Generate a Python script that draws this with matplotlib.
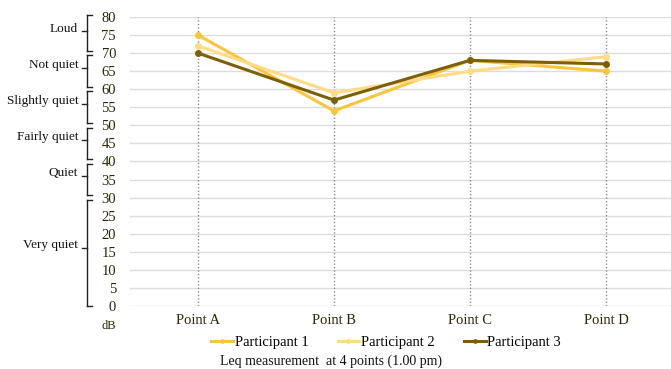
import matplotlib.pyplot as plt
import numpy as np

# -----------------------------
# Data
# -----------------------------
points = ["Point A", "Point B", "Point C", "Point D"]
participant_1 = [75, 54, 68, 65]
participant_2 = [72, 59, 65, 69]
participant_3 = [70, 57, 68, 67]

y_ticks = list(range(0, 85, 5))

# noise bands: (label, low, high)
band_labels = ["Loud", "Not quiet", "Slightly quiet", "Fairly quiet", "Quiet", "Very quiet"]
band_low = [70, 60, 50, 40, 30, 0]
band_high = [80, 70, 60, 50, 40, 30]

colors = ["#F9C53B", "#FFDC84", "#7E5E07"]
text_color = "#2b2600"

plt.rcParams["font.family"] = ["Liberation Serif", "DejaVu Serif"]

# -----------------------------
# Figure
# -----------------------------
fig = plt.figure(figsize=(6.71, 3.69), dpi=100)
ax = fig.add_axes([130 / 671, 63 / 369, 544 / 671, 289 / 369])

x = np.arange(len(points))

for xi in x:
    ax.axvline(xi, color="#8c8c8c", linestyle=(0, (1, 1.5)), linewidth=1.0, zorder=1)

for yv in y_ticks:
    ax.axhline(yv, color="#dcdcdc", linewidth=1.0, zorder=0)

series = [participant_1, participant_2, participant_3]
names = ["Participant 1", "Participant 2", "Participant 3"]
for vals, c, name in zip(series, colors, names):
    ax.plot(x, vals, color=c, linewidth=2.2, marker="o", markersize=4,
            label=name, zorder=3, clip_on=False)

ax.set_xlim(-0.5, 3.5)
ax.set_ylim(0, 80)
ax.set_yticks(y_ticks)
ax.set_yticklabels([str(v) for v in y_ticks], fontsize=10.5, color=text_color)
ax.tick_params(axis="y", length=0, pad=10)
ax.set_xticks(x)
ax.set_xticklabels(points, fontsize=10.5, color=text_color)
ax.tick_params(axis="x", length=0, pad=6)

for s in ax.spines.values():
    s.set_visible(False)

# dB unit label
ax.text(-0.6, -3.8, "dB", transform=ax.transData, ha="right", va="top",
        fontsize=9, color=text_color)

# -----------------------------
# Bracket labels for noise bands
# -----------------------------
bx = -0.816   # bracket line x in data coords
tick_r = 0.04
tick_l = 0.035
for label, lo, hi in zip(band_labels, band_low, band_high):
    y0 = lo + 0.6 if lo > 0 else lo
    y1 = hi - 0.6 if hi < 80 else hi + 0.6
    ax.plot([bx, bx], [y0, y1], color="#222222", linewidth=1.0, clip_on=False)
    ax.plot([bx, bx + tick_r], [y0, y0], color="#222222", linewidth=1.0, clip_on=False)
    ax.plot([bx, bx + tick_r], [y1, y1], color="#222222", linewidth=1.0, clip_on=False)
    mid = (lo + hi) / 2 + 1.0
    ax.plot([bx - tick_l, bx], [mid, mid], color="#222222", linewidth=1.0, clip_on=False)
    ax.text(bx - tick_l - 0.03, mid + 0.8, label, ha="right", va="center",
            fontsize=9.5, color="#111111")

# -----------------------------
# Legend and caption
# -----------------------------
fig.legend(loc="center", bbox_to_anchor=(386 / 671, 1 - 342 / 369), ncol=3,
           frameon=False, fontsize=10.5, handlelength=1.5, handletextpad=0.1,
           columnspacing=2.0, markerscale=0.6)

fig.text(331 / 671, 1 - 361 / 369, "Leq measurement  at 4 points (1.00 pm)",
         ha="center", va="center", fontsize=10, color="#111111")

plt.savefig("out.png", dpi=100)
plt.close()
